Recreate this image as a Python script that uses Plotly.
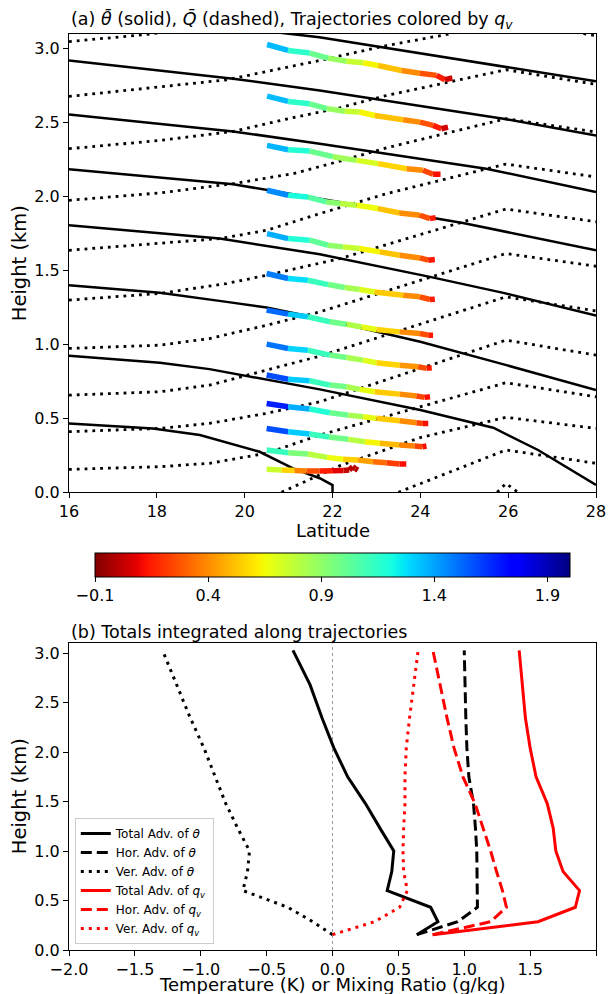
import plotly.graph_objects as go
from plotly.colors import sample_colorscale

FONT = "DejaVu Sans"

# ---------------- colour scale (matplotlib jet reversed) ----------------
JET_R = [
    [0.00, "rgb(128,0,0)"], [0.09, "rgb(232,0,0)"], [0.11, "rgb(255,19,0)"],
    [0.34, "rgb(255,236,0)"], [0.35, "rgb(247,245,0)"], [0.36, "rgb(239,255,8)"],
    [0.625, "rgb(21,255,226)"], [0.65, "rgb(0,230,247)"], [0.66, "rgb(0,219,255)"],
    [0.875, "rgb(0,0,255)"], [0.89, "rgb(0,0,255)"], [1.00, "rgb(0,0,128)"],
]
QMIN, QMAX = -0.1, 2.0
cbar_ticks = [-0.1, 0.4, 0.9, 1.4, 1.9]
cbar_ticktext = ["\u22120.1", "0.4", "0.9", "1.4", "1.9"]

# ---------------- panel (a): theta contours (solid) ----------------
theta_lat = [
    [19.0, 21.1, 21.7, 28.0],
    [16, 19.74, 21.71, 25.89, 28],
    [16, 19.74, 21.71, 25.5, 28],
    [16, 19.74, 21.71, 24.97, 28],
    [16, 19.43, 21.71, 24.22, 25.89, 28],
    [16, 18.07, 19.59, 20.5, 21.71, 24, 25.96, 28],
    [16, 18.07, 19.2, 20.5, 21.71, 24, 25.66, 26.68, 28],
    [16, 17.91, 18.98, 20.34, 21.1, 21.71, 22.0, 22.0],
]
theta_h = [
    [3.17, 3.097, 3.078, 2.78],
    [2.921, 2.797, 2.718, 2.527, 2.414],
    [2.556, 2.441, 2.358, 2.189, 2.031],
    [2.186, 2.083, 1.986, 1.822, 1.637],
    [1.806, 1.716, 1.61, 1.457, 1.349, 1.196],
    [1.401, 1.349, 1.288, 1.25, 1.176, 1.018, 0.86, 0.691],
    [0.923, 0.876, 0.833, 0.763, 0.696, 0.556, 0.437, 0.286, 0.049],
    [0.466, 0.432, 0.387, 0.274, 0.162, 0.095, 0.049, 0.0],
]

# ---------------- panel (a): Q contours (dotted) ----------------
Q_lat = [
    [16, 17.6, 19.6],
    [16, 19.59, 21.71, 23.23, 24.6, 25.95, 28],
    [16, 18.07, 19.74, 21.1, 22.17, 23.23, 25.95, 28],
    [16, 18.07, 19.74, 21.1, 22.17, 23.23, 25.95, 28],
    [16, 18.07, 19.43, 20.5, 21.71, 23.23, 25.95, 28],
    [16, 18.07, 19.59, 20.5, 22.17, 25.95, 28],
    [16, 18.07, 19.2, 20.5, 21.71, 24.22, 25.95, 28],
    [16, 18.07, 19.2, 20.5, 21.71, 25.95, 28],
    [16, 18.07, 19.2, 20.5, 21.71, 25.95, 28],
    [16, 18.07, 19.2, 20.5, 21.71, 25.95, 28],
    [20.84, 22.17, 24.0, 25.95, 28],
    [23.5, 25.95, 28],
    [25.75, 25.95, 26.22],
]
Q_h = [
    [3.049, 3.092, 3.16],
    [2.678, 2.79, 2.921, 3.022, 3.097, 3.19, 3.088],
    [2.324, 2.38, 2.441, 2.534, 2.601, 2.684, 2.858, 2.759],
    [1.975, 2.025, 2.088, 2.155, 2.24, 2.33, 2.527, 2.437],
    [1.637, 1.682, 1.716, 1.772, 1.885, 2.02, 2.22, 2.133],
    [1.30, 1.345, 1.412, 1.468, 1.581, 1.916, 1.83],
    [0.973, 0.995, 1.04, 1.13, 1.22, 1.457, 1.615, 1.529],
    [0.657, 0.68, 0.725, 0.826, 0.921, 1.322, 1.227],
    [0.41, 0.432, 0.466, 0.534, 0.612, 1.029, 0.928],
    [0.155, 0.173, 0.196, 0.264, 0.387, 0.741, 0.646],
    [0.0, 0.18, 0.37, 0.507, 0.432],
    [0.0, 0.286, 0.196],
    [0.0, 0.06, 0.0],
]

# ---------------- panel (a): trajectories ----------------
traj_lat = [
    [20.5, 20.84, 21.14, 21.41, 21.71, 22.01, 22.25, 22.38, 22.46, 22.52, 22.58],
    [20.5, 20.99, 21.44, 21.88, 22.24, 22.58, 22.92, 23.23, 23.53, 23.68],
    [20.5, 20.99, 21.48, 21.92, 22.36, 22.74, 23.08, 23.53, 23.87, 24.05, 24.14],
    [20.5, 20.99, 21.48, 21.94, 22.36, 22.70, 23.0, 23.53, 23.91, 24.06, 24.18],
    [20.5, 20.99, 21.48, 21.94, 22.32, 22.62, 22.96, 23.53, 23.91, 24.1, 24.22],
    [20.5, 20.99, 21.44, 21.94, 22.32, 22.70, 23.0, 23.53, 23.95, 24.14, 24.26],
    [20.5, 20.99, 21.44, 21.94, 22.32, 22.66, 23.0, 23.53, 23.99, 24.18, 24.29],
    [20.5, 20.99, 21.44, 21.90, 22.28, 22.62, 22.96, 23.61, 23.99, 24.22, 24.33],
    [20.51, 20.99, 21.48, 21.90, 22.24, 22.62, 23.08, 23.53, 23.99, 24.18, 24.33],
    [20.51, 20.99, 21.44, 21.86, 22.17, 22.55, 23.04, 23.53, 23.99, 24.22, 24.35],
    [20.51, 20.99, 21.48, 22.01, 22.55, 23.04, 23.69, 24.06, 24.29, 24.46],
    [20.51, 20.99, 21.48, 21.88, 22.28, 22.62, 22.96, 23.61, 23.99, 24.29, 24.48, 24.63],
    [20.51, 20.99, 21.48, 21.90, 22.32, 22.70, 23.04, 23.57, 23.99, 24.37, 24.56, 24.73],
]
traj_h = [
    [0.155, 0.151, 0.147, 0.144, 0.144, 0.146, 0.147, 0.150, 0.172, 0.160, 0.150],
    [0.286, 0.268, 0.259, 0.236, 0.223, 0.218, 0.207, 0.200, 0.191, 0.191],
    [0.432, 0.41, 0.394, 0.374, 0.358, 0.342, 0.331, 0.32, 0.313, 0.308, 0.313],
    [0.601, 0.578, 0.563, 0.538, 0.522, 0.511, 0.5, 0.484, 0.47, 0.466, 0.466],
    [0.793, 0.765, 0.754, 0.725, 0.714, 0.696, 0.68, 0.664, 0.651, 0.642, 0.646],
    [1.002, 0.973, 0.961, 0.928, 0.912, 0.894, 0.876, 0.86, 0.849, 0.838, 0.842],
    [1.232, 1.205, 1.187, 1.153, 1.137, 1.119, 1.101, 1.085, 1.074, 1.063, 1.063],
    [1.48, 1.446, 1.434, 1.405, 1.385, 1.372, 1.355, 1.333, 1.322, 1.304, 1.306],
    [1.75, 1.716, 1.705, 1.671, 1.66, 1.649, 1.626, 1.603, 1.585, 1.57, 1.574],
    [2.043, 2.009, 1.997, 1.964, 1.953, 1.941, 1.919, 1.889, 1.874, 1.851, 1.858],
    [2.347, 2.317, 2.308, 2.27, 2.245, 2.223, 2.189, 2.178, 2.151, 2.151],
    [2.68, 2.644, 2.628, 2.595, 2.578, 2.572, 2.549, 2.52, 2.504, 2.482, 2.459, 2.47],
    [3.029, 2.989, 2.971, 2.937, 2.916, 2.905, 2.887, 2.853, 2.835, 2.82, 2.791, 2.802],
]
traj_q = [
    [0.75, 0.56, 0.38, 0.26, 0.15, 0.08, 0.02, 0.0, 0.0, 0.0, 0.0],
    [1.12, 0.95, 0.80, 0.66, 0.55, 0.45, 0.33, 0.22, 0.12, 0.08],
    [1.58, 1.32, 1.12, 0.98, 0.80, 0.64, 0.50, 0.38, 0.24, 0.12, 0.08],
    [1.68, 1.38, 1.18, 1.0, 0.84, 0.68, 0.54, 0.40, 0.24, 0.12, 0.08],
    [1.58, 1.32, 1.12, 0.98, 0.84, 0.68, 0.54, 0.40, 0.24, 0.12, 0.08],
    [1.50, 1.30, 1.12, 0.98, 0.84, 0.70, 0.56, 0.42, 0.26, 0.14, 0.08],
    [1.52, 1.32, 1.12, 0.98, 0.82, 0.68, 0.56, 0.40, 0.26, 0.14, 0.08],
    [1.48, 1.28, 1.12, 0.98, 0.84, 0.70, 0.54, 0.40, 0.26, 0.14, 0.08],
    [1.38, 1.18, 1.02, 0.90, 0.76, 0.64, 0.52, 0.40, 0.26, 0.14, 0.08],
    [1.45, 1.20, 1.05, 0.92, 0.80, 0.66, 0.52, 0.40, 0.26, 0.14, 0.06],
    [1.36, 1.18, 1.00, 0.86, 0.72, 0.56, 0.40, 0.24, 0.12, 0.06],
    [1.35, 1.15, 1.00, 0.88, 0.76, 0.64, 0.52, 0.40, 0.27, 0.15, 0.05, 0.0],
    [1.35, 1.15, 1.00, 0.88, 0.76, 0.64, 0.52, 0.40, 0.27, 0.15, 0.05, 0.0],
]

# ---------------- panel (b): totals along trajectories ----------------
start_height = [0.155, 0.286, 0.432, 0.601, 0.793, 1.002, 1.232, 1.48, 1.75, 2.043, 2.347, 2.68, 3.029]
tot_theta = [0.64, 0.80, 0.745, 0.415, 0.45, 0.465, 0.36, 0.25, 0.115, 0.01, -0.08, -0.17, -0.30]
hor_theta = [0.64, 0.95, 1.10, 1.10, 1.10, 1.095, 1.085, 1.07, 1.035, 1.02, 1.012, 1.005, 1.0]
ver_theta = [0.0, -0.15, -0.34, -0.68, -0.645, -0.63, -0.72, -0.81, -0.89, -0.976, -1.08, -1.18, -1.29]
tot_qv = [0.76, 1.56, 1.843, 1.875, 1.75, 1.695, 1.675, 1.63, 1.545, 1.50, 1.464, 1.439, 1.417]
hor_qv = [0.76, 1.20, 1.32, 1.29, 1.245, 1.20, 1.143, 1.082, 0.99, 0.922, 0.869, 0.817, 0.762]
ver_qv = [0.0, 0.32, 0.51, 0.568, 0.54, 0.535, 0.54, 0.55, 0.55, 0.56, 0.585, 0.615, 0.65]

fig = go.Figure()

# theta contours
for la, hh in zip(theta_lat, theta_h):
    fig.add_trace(go.Scatter(x=la, y=hh, mode="lines", line=dict(color="black", width=2.5),
                             showlegend=False, hoverinfo="skip", xaxis="x", yaxis="y"))
# Q contours
for la, hh in zip(Q_lat, Q_h):
    fig.add_trace(go.Scatter(x=la, y=hh, mode="lines",
                             line=dict(color="black", width=2.8, dash="2.8px,5px"),
                             showlegend=False, hoverinfo="skip", xaxis="x", yaxis="y"))
# trajectories, segment by segment coloured by q_v
for la, hh, qq in zip(traj_lat, traj_h, traj_q):
    for i in range(len(la) - 1):
        c = sample_colorscale(JET_R, [(qq[i] - QMIN) / (QMAX - QMIN)])[0]
        fig.add_trace(go.Scatter(x=[la[i], la[i + 1]], y=[hh[i], hh[i + 1]], mode="lines",
                                 line=dict(color=c, width=5.5),
                                 showlegend=False, hoverinfo="skip", xaxis="x", yaxis="y"))

# colorbar carrier
fig.add_trace(go.Scatter(
    x=[16], y=[-5], mode="markers", xaxis="x", yaxis="y", showlegend=False, hoverinfo="skip",
    marker=dict(color=[0.5], colorscale=JET_R, cmin=QMIN, cmax=QMAX, opacity=0, size=1,
                showscale=True,
                colorbar=dict(orientation="h", x=0.5, xanchor="center", y=0.4334, yanchor="top",
                              len=0.902, lenmode="fraction", thickness=24, thicknessmode="pixels",
                              outlinewidth=1, outlinecolor="black", xpad=0, ypad=0,
                              tickvals=cbar_ticks, ticktext=cbar_ticktext, ticks="outside",
                              ticklen=5, tickcolor="black",
                              tickfont=dict(family=FONT, size=16, color="black"))),
))

# panel (b)
mu_th = "<i>\u03b8</i>"
mu_q = "<i>q</i><sub><i>v</i></sub>"
series_b = [
    ("Total Adv. of " + mu_th, tot_theta, "black", "solid"),
    ("Hor. Adv. of " + mu_th, hor_theta, "black", "11px,5px"),
    ("Ver. Adv. of " + mu_th, ver_theta, "black", "3px,5px"),
    ("Total Adv. of " + mu_q, tot_qv, "red", "solid"),
    ("Hor. Adv. of " + mu_q, hor_qv, "red", "11px,5px"),
    ("Ver. Adv. of " + mu_q, ver_qv, "red", "3px,5px"),
]
for name, vals, col, dash in series_b:
    fig.add_trace(go.Scatter(x=vals, y=start_height, mode="lines", name=name,
                             line=dict(color=col, width=3, dash=dash),
                             xaxis="x2", yaxis="y2", hoverinfo="skip"))

axis_common = dict(showline=True, mirror=True, linecolor="black", linewidth=1, ticks="outside",
                   ticklen=5, tickcolor="black", showgrid=False, zeroline=False, automargin=False,
                   tickfont=dict(family=FONT, size=16, color="black"))

def label(text, x, y, size, angle=0):
    return dict(text=text, x=x, y=y, xref="paper", yref="paper", xanchor="center", yanchor="middle",
                textangle=angle, showarrow=False, font=dict(size=size))

fig.update_layout(
    width=608, height=994,
    margin=dict(l=69, r=12, t=34, b=44, autoexpand=False),
    paper_bgcolor="white", plot_bgcolor="white",
    font=dict(family=FONT, color="black"),
    xaxis=dict(domain=[0, 1], anchor="y", range=[16, 28], tickvals=[16, 18, 20, 22, 24, 26, 28],
               **axis_common),
    yaxis=dict(domain=[0.4997, 1.0], anchor="x", range=[0, 3.1],
               tickvals=[0, 0.5, 1, 1.5, 2, 2.5, 3], tickformat=".1f", **axis_common),
    xaxis2=dict(domain=[0, 1], anchor="y2", range=[-2, 2], tickvals=[-2, -1.5, -1, -0.5, 0, 0.5, 1, 1.5, 2],
                tickformat=".1f", **axis_common),
    yaxis2=dict(domain=[0, 0.3348], anchor="x2", range=[0, 3.1],
                tickvals=[0, 0.5, 1, 1.5, 2, 2.5, 3], tickformat=".1f", **axis_common),
    legend=dict(x=0.011, y=0.0066, xanchor="left", yanchor="bottom", bgcolor="rgba(255,255,255,0.8)",
                bordercolor="#cccccc", borderwidth=1, font=dict(family=FONT, size=12),
                tracegroupgap=0, itemwidth=30),
    shapes=[dict(type="line", xref="x2", yref="y2 domain", x0=0, x1=0, y0=0, y1=1,
                 line=dict(color="gray", width=0.8, dash="dot"), layer="below")],
    annotations=[
        dict(text="(a) <i>\u03b8\u0304</i> (solid), <i>Q\u0304</i> (dashed), Trajectories colored by " + mu_q,
             x=0, y=1.0153, xref="paper", yref="paper", xanchor="left", yanchor="middle",
             showarrow=False, font=dict(size=17.5)),
        dict(text="(b) Totals integrated along trajectories",
             x=0, y=0.347, xref="paper", yref="paper", xanchor="left", yanchor="middle",
             showarrow=False, font=dict(size=17.5)),
        label("Latitude", 0.5, 0.4585, 18),
        label("Temperature (K) or Mixing Ratio (g/kg)", 0.5, -0.0378, 18),
        label("Height (km)", -0.0934, 0.7495, 19.5, -90),
        label("Height (km)", -0.0934, 0.1676, 19.5, -90),
    ],
)

fig.write_html("out.html", include_plotlyjs=True, full_html=True, config={"displayModeBar": False})
